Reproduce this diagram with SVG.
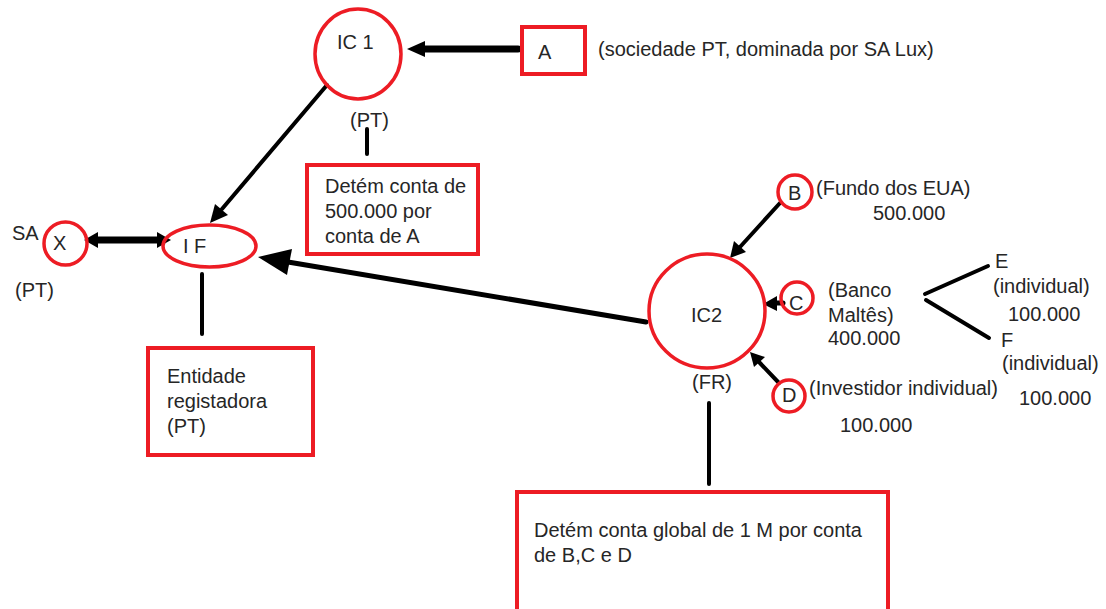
<svg xmlns="http://www.w3.org/2000/svg" width="1106" height="609" viewBox="0 0 1106 609">
<style>
  text { font-family: "Liberation Sans", Arial, sans-serif; font-size: 20px; fill: #262626; }
  .node { fill: none; stroke: #ED1C24; stroke-width: 3.5; }
  .box { fill: none; stroke: #ED1C24; stroke-width: 4; }
  .ln { stroke: #000; stroke-linecap: round; fill: none; }
  .head { fill: #000; stroke: none; }
</style>
<rect width="1106" height="609" fill="#fff"/>

<g id="connectors">
  <!-- A -> IC1 -->
  <line class="ln" x1="518" y1="49" x2="422" y2="49" stroke-width="7" stroke-linecap="butt"/>
  <polygon class="head" points="407,49 425,41 425,57"/>
  <!-- IC1 -> IF -->
  <line class="ln" x1="327" y1="85" x2="222" y2="209" stroke-width="4"/>
  <polygon class="head" points="210,223 228,215 215,204"/>
  <!-- X <-> IF -->
  <line class="ln" x1="95" y1="240" x2="160" y2="240" stroke-width="7" stroke-linecap="butt"/>
  <polygon class="head" points="84,240 98,232 98,248"/>
  <polygon class="head" points="171,240 157,232 157,248"/>
  <!-- IC2 -> IF -->
  <line class="ln" x1="646" y1="322" x2="288" y2="262" stroke-width="5"/>
  <polygon class="head" points="258,257 292,249 287,275"/>
  <!-- B -> IC2 -->
  <line class="ln" x1="780" y1="203" x2="740" y2="247" stroke-width="4"/>
  <polygon class="head" points="730,258 746,252 734,241"/>
  <!-- C -> IC2 -->
  <line class="ln" x1="783" y1="303" x2="774" y2="303" stroke-width="5"/>
  <polygon class="head" points="763,304 777,296 777,311"/>
  <!-- D -> IC2 -->
  <line class="ln" x1="779" y1="383" x2="759" y2="362" stroke-width="4"/>
  <polygon class="head" points="750,352 765,357 754,367"/>
  <!-- plain links -->
  <line class="ln" x1="367" y1="129" x2="367" y2="154" stroke-width="4"/>
  <line class="ln" x1="202" y1="274" x2="202" y2="334" stroke-width="4"/>
  <line class="ln" x1="709" y1="403" x2="709" y2="484" stroke-width="4"/>
  <line class="ln" x1="925" y1="294" x2="988" y2="266" stroke-width="4"/>
  <line class="ln" x1="926" y1="300" x2="989" y2="338" stroke-width="4"/>
</g>

<g id="IC1">
  <ellipse class="node" cx="358" cy="54" rx="43" ry="45"/>
  <text x="337" y="49">IC 1</text>
  <text x="350" y="127">(PT)</text>
</g>

<g id="A">
  <rect class="box" x="522" y="27" width="63" height="47"/>
  <text x="538" y="59">A</text>
  <text x="598" y="56">(sociedade PT, dominada por SA Lux)</text>
</g>

<g id="note-IC1">
  <rect class="box" x="307" y="165" width="171" height="89"/>
  <text x="325" y="193">Detém conta de</text>
  <text x="325" y="218">500.000 por</text>
  <text x="325" y="243">conta de A</text>
</g>

<g id="X">
  <circle class="node" cx="65.5" cy="243.5" r="21.5"/>
  <text x="53" y="250">X</text>
  <text x="12" y="240">SA</text>
  <text x="15" y="297">(PT)</text>
</g>

<g id="IF">
  <ellipse class="node" cx="209.5" cy="246" rx="46.5" ry="21"/>
  <text x="183" y="253">I F</text>
</g>

<g id="note-IF">
  <rect class="box" x="148" y="348" width="165" height="107"/>
  <text x="167" y="383">Entidade</text>
  <text x="167" y="408">registadora</text>
  <text x="167" y="433">(PT)</text>
</g>

<g id="IC2">
  <ellipse class="node" cx="707" cy="311" rx="58" ry="57"/>
  <text x="691" y="322">IC2</text>
  <text x="692" y="389">(FR)</text>
</g>

<g id="note-IC2">
  <rect class="box" x="517" y="492" width="371" height="122"/>
  <text x="534" y="537">Detém conta global de 1 M por conta</text>
  <text x="534" y="562">de B,C e D</text>
</g>

<g id="B">
  <circle class="node" cx="795" cy="192" r="17"/>
  <text x="788" y="200">B</text>
  <text x="816" y="195">(Fundo dos EUA)</text>
  <text x="873" y="220">500.000</text>
</g>

<g id="C">
  <circle class="node" cx="797" cy="298" r="16"/>
  <text x="789" y="310">C</text>
  <text x="828" y="297">(Banco</text>
  <text x="828" y="322">Maltês)</text>
  <text x="828" y="345">400.000</text>
</g>

<g id="D">
  <circle class="node" cx="789" cy="396" r="16"/>
  <text x="782" y="402">D</text>
  <text x="809" y="395">(Investidor individual)</text>
  <text x="840" y="432">100.000</text>
</g>

<g id="E">
  <text x="995" y="268">E</text>
  <text x="993" y="293">(individual)</text>
  <text x="1008" y="321">100.000</text>
</g>

<g id="F">
  <text x="1001" y="347">F</text>
  <text x="1002" y="370">(individual)</text>
  <text x="1019" y="405">100.000</text>
</g>
</svg>
